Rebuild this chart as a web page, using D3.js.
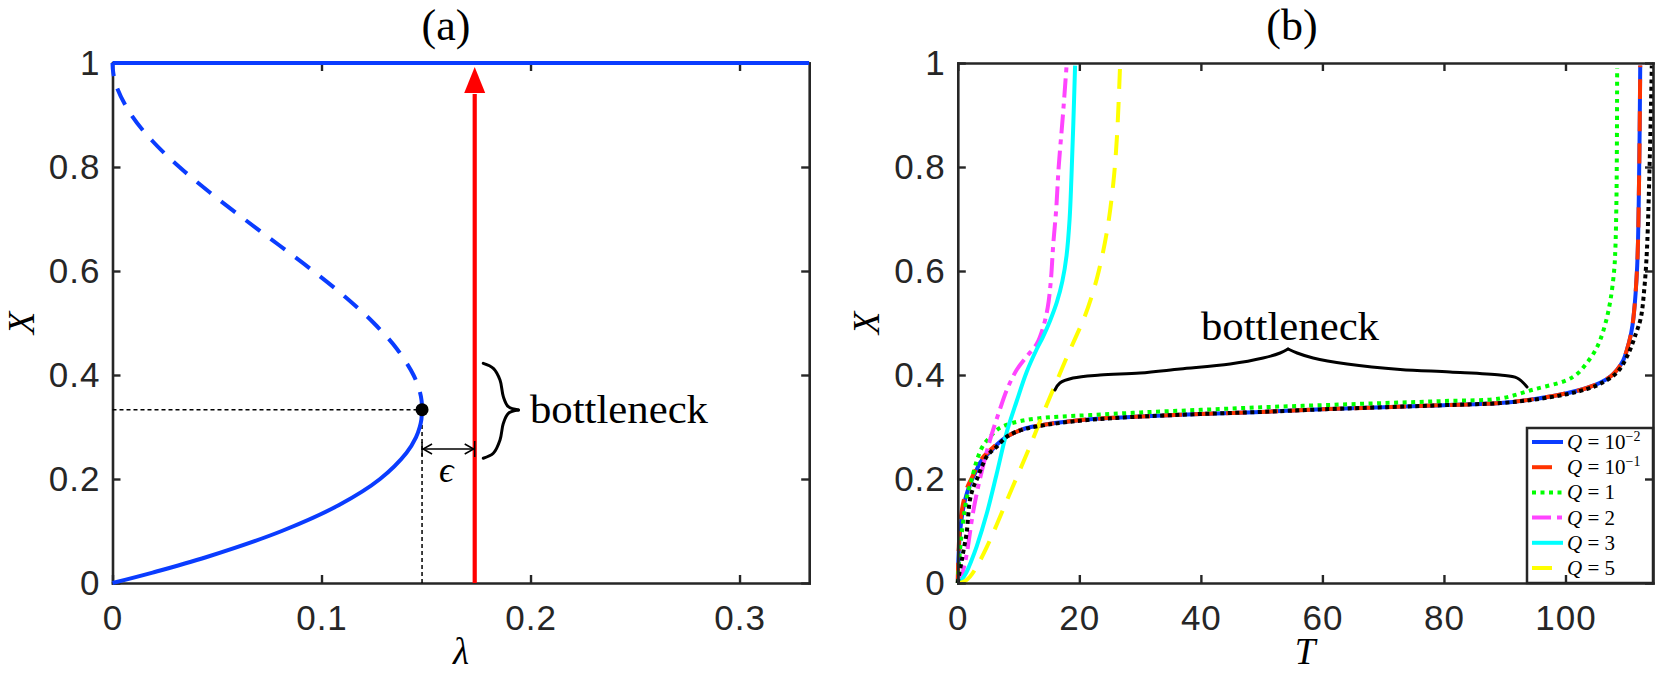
<!DOCTYPE html>
<html><head><meta charset="utf-8">
<script src="https://cdn.jsdelivr.net/npm/d3@7"></script>
<style>body{margin:0;background:#fff;} svg{display:block;}</style>
</head><body>
<svg id="chart" width="1661" height="675"></svg>
<script>
// ---------------- data ----------------
const lambdaTicks = [0, 0.1, 0.2, 0.3];
const xTickVals   = [0, 0.2, 0.4, 0.6, 0.8, 1];
const tTicks      = [0, 20, 40, 60, 80, 100];

// panel (a): bifurcation diagram (lambda, X)
const stableX   = [0, 0.02, 0.05, 0.1, 0.15, 0.2, 0.25, 0.28, 0.3, 0.315, 0.3333];
const stableLam = [0, 0.0192, 0.0451, 0.081, 0.1084, 0.128, 0.1406, 0.1452, 0.147, 0.1478, 0.1481];
const unstableX   = [0.3333, 0.35, 0.37, 0.4, 0.45, 0.5, 0.55, 0.6, 0.65, 0.7, 0.75, 0.8, 0.85, 0.9, 0.95, 0.98, 1];
const unstableLam = [0.1481, 0.1479, 0.1469, 0.144, 0.1361, 0.125, 0.1114, 0.096, 0.0796, 0.063, 0.0469, 0.032, 0.0191, 0.009, 0.0024, 0.0004, 0];
const upperLam = [0, 0.3333];
const upperX   = [1, 1];
const foldLam = 0.1481, foldX = 0.3333;
const pathLam = 0.1733;
const epsX = 0.2577;
const braceAUpper = [[0.1774,0.4225],[0.1822,0.4129],[0.1854,0.3904],[0.1870,0.3583],[0.1894,0.3390],[0.1942,0.3327]];
const braceALower = [[0.1942,0.3327],[0.1894,0.3263],[0.1870,0.3071],[0.1854,0.2750],[0.1822,0.2494],[0.1774,0.2398]];

// panel (b): X(T) for several Q
const qBase = ["10", "10", "1", "2", "3", "5"];
const qExp  = ["\u22122", "\u22121", "", "", "", ""];

const tQ1 = [0,0.1,0.36,0.7,1.2,1.7,2.3,3.0,3.6,4.4,5.3,6.5,8.0,9.5,11.3,13.5,16.3,21.8,30,40,50,60,70,80,89.3,95,100.2,103.5,105.7,107.5,108.5,109.5,110.1,110.8,111.2,111.8,112.1,112.3];
const xQ1 = [0,0.045,0.096,0.13,0.16,0.18,0.198,0.215,0.23,0.242,0.252,0.267,0.281,0.29,0.298,0.303,0.308,0.315,0.32,0.325,0.329,0.334,0.338,0.342,0.346,0.354,0.365,0.375,0.385,0.398,0.41,0.428,0.448,0.48,0.512,0.61,0.77,0.995];
const tQ2 = [0,0.08,0.3,0.6,1.1,1.6,2.2,2.9,3.5,4.3,5.2,6.5,8.0,9.5,11.3,13.5,16.3,21.8,30,40,50,60,70,80,89.3,95,100.2,103.5,105.7,107.5,108.5,109.5,110.1,110.8,111.2,111.8,112.1,112.3];
const xQ2 = [0,0.045,0.1,0.135,0.165,0.185,0.2,0.217,0.232,0.244,0.254,0.268,0.281,0.29,0.298,0.303,0.308,0.315,0.32,0.325,0.329,0.334,0.338,0.342,0.346,0.354,0.365,0.375,0.385,0.398,0.41,0.428,0.448,0.48,0.512,0.61,0.77,0.995];
const tQ3 = [0,0.36,0.8,1.2,1.7,2.3,3.3,4.2,5.3,6.5,8.0,10.5,13.5,17,21.8,30,40,50,60,70,80,89.3,94.7,100.2,102,103.5,104.8,105.7,106.7,107.4,108.0,108.2,108.4,108.5];
const xQ3 = [0,0.063,0.11,0.146,0.175,0.2,0.242,0.265,0.281,0.295,0.304,0.312,0.317,0.32,0.323,0.328,0.333,0.338,0.342,0.346,0.35,0.355,0.372,0.39,0.403,0.423,0.445,0.467,0.505,0.544,0.6,0.64,0.75,0.99];
const tQ4 = [0,0.4,0.9,1.5,2.5,3.6,5.3,6.9,8.2,9.7,11.3,13.0,14.0,14.8,15.3,15.7,16.2,16.6,17.3,17.9];
const xQ4 = [0,0.006,0.025,0.058,0.135,0.198,0.275,0.333,0.375,0.41,0.435,0.46,0.49,0.53,0.58,0.65,0.72,0.8,0.9,0.995];
const tQ5 = [0,0.4,1.4,2.2,3.1,4.8,6.4,8.0,9.7,11.3,13.0,14.0,15.2,16.3,17.2,17.9,18.4,18.7,19.0,19.3];
const xQ5 = [0,0.003,0.02,0.042,0.07,0.135,0.21,0.288,0.35,0.405,0.45,0.473,0.505,0.54,0.58,0.63,0.7,0.78,0.88,0.995];
const tQ6 = [0.3,1.2,2,3.1,4.8,6.4,8.3,10.5,12.3,14.0,15.8,17.6,19.3,20.8,22.0,23.2,24.6,25.6,26.2,26.7];
const xQ6 = [0,0.004,0.012,0.031,0.07,0.112,0.165,0.225,0.275,0.325,0.375,0.425,0.47,0.51,0.55,0.6,0.68,0.77,0.86,0.995];
const tRef = [0,0.2,0.6,0.9,1.45,2.0,2.6,3.3,4.0,4.75,5.5,6.4,8.0,9.5,11.3,13.5,16.3,21.8,30,40,50,60,70,80,89.3,95,100.2,103.5,105.7,108.5,110.3,111.6,112.4,113.0,113.4,113.9,114.2];
const xRef = [0,0.015,0.04,0.06,0.096,0.16,0.185,0.204,0.225,0.243,0.253,0.262,0.281,0.29,0.297,0.302,0.307,0.314,0.32,0.325,0.329,0.334,0.338,0.342,0.346,0.353,0.363,0.373,0.383,0.405,0.44,0.48,0.51,0.57,0.64,0.83,0.995];
const braceBLeft  = [[15.98,0.3712],[16.8,0.3846],[18.96,0.3942],[23.41,0.4],[29.99,0.4038],[36.58,0.4115],[44.81,0.4212],[50.24,0.4327],[53.04,0.4423],[54.35,0.45]];
const braceBRight = [[54.35,0.45],[55.84,0.4423],[58.47,0.4327],[64.07,0.4212],[72.79,0.4106],[81.0,0.4058],[89.23,0.4],[92.03,0.3942],[93.67,0.3769]];

// ---------------- styles / layout ----------------
const AX = '#262626';
const SANS = 'Liberation Sans, Arial, Helvetica, sans-serif';
const SERIF = 'Liberation Serif, DejaVu Serif, Times New Roman, serif';
const BLUE = '#0a3cff';
const seriesStyle = [
  {color: BLUE,      dash: null},
  {color: '#ff3300', dash: '20,12'},
  {color: '#00ff00', dash: '4,4.5'},
  {color: '#ff44ff', dash: '19,6,5,6'},
  {color: '#00ffff', dash: null},
  {color: '#ffff00', dash: '20,13'}
];
const seriesT = [tQ1, tQ2, tQ3, tQ4, tQ5, tQ6];
const seriesX = [xQ1, xQ2, xQ3, xQ4, xQ5, xQ6];

const svg = d3.select('#chart');
const yS = d3.scaleLinear([0, 1], [583, 63]);
const xA = d3.scaleLinear([0, 1/3], [112.5, 809.2]);
const xB = d3.scaleLinear([0, 114.4], [957.8, 1653]);

const zip = (a, b) => a.map((v, i) => [v, b[i]]);

function drawAxes(xs, xticks) {
  const g = svg.append('g');
  const [x0, x1] = xs.range();
  g.append('g').attr('transform', 'translate(0,583)')
    .call(d3.axisBottom(xs).tickValues(xticks).tickSize(-8).tickSizeOuter(0).tickPadding(22).tickFormat(d => String(d)));
  g.append('g').attr('transform', 'translate(0,63)')
    .call(d3.axisTop(xs).tickValues(xticks).tickSize(-8).tickSizeOuter(0).tickFormat(''));
  g.append('g').attr('transform', `translate(${x0},0)`)
    .call(d3.axisLeft(yS).tickValues(xTickVals).tickSize(-8).tickSizeOuter(0).tickPadding(12).tickFormat(d => String(d)));
  g.append('g').attr('transform', `translate(${x1},0)`)
    .call(d3.axisRight(yS).tickValues(xTickVals).tickSize(-8).tickSizeOuter(0).tickFormat(''));
  g.selectAll('.domain').attr('stroke', AX).attr('stroke-width', 2.6).attr('stroke-linecap', 'square');
  g.selectAll('.tick line').attr('stroke', AX).attr('stroke-width', 2.4);
  g.selectAll('.tick text').attr('fill', AX).attr('font-family', SANS).attr('font-size', 35).attr('letter-spacing', 1);
  return g;
}

// ---------------- panel (a) ----------------
const lineA = d3.line().x(d => xA(d[0])).y(d => yS(d[1])).curve(d3.curveCatmullRom.alpha(0.5));
drawAxes(xA, lambdaTicks);

// guide lines
svg.append('path').attr('d', lineA([[0, foldX], [foldLam, foldX]]))
  .attr('stroke', '#000').attr('stroke-width', 1.5).attr('stroke-dasharray', '4,3').attr('fill', 'none');
svg.append('path').attr('d', lineA([[foldLam, 0], [foldLam, foldX]]))
  .attr('stroke', '#000').attr('stroke-width', 1.5).attr('stroke-dasharray', '4,3').attr('fill', 'none');

// branches
svg.append('path').attr('d', lineA(zip(stableLam, stableX)))
  .attr('stroke', BLUE).attr('stroke-width', 4).attr('fill', 'none');
svg.append('path').attr('d', lineA(zip(unstableLam, unstableX)))
  .attr('stroke', BLUE).attr('stroke-width', 4).attr('fill', 'none').attr('stroke-dasharray', '18,13');
svg.append('path').attr('d', lineA(zip(upperLam, upperX)))
  .attr('stroke', BLUE).attr('stroke-width', 4).attr('fill', 'none');

// fold point
svg.append('circle').attr('cx', xA(foldLam)).attr('cy', yS(foldX)).attr('r', 6.5).attr('fill', '#000');

// red arrow
{
  const ax = xA(pathLam), tip = yS(1) + 4, base = tip + 26;
  svg.append('line').attr('x1', ax).attr('x2', ax).attr('y1', yS(0)).attr('y2', base + 1)
    .attr('stroke', '#ff0000').attr('stroke-width', 4.2);
  svg.append('path').attr('d', `M${ax},${tip}L${ax - 10.5},${base}L${ax + 10.5},${base}Z`).attr('fill', '#ff0000');
}

// epsilon arrow
{
  const xa = xA(foldLam), xb = xA(pathLam), y = yS(epsX);
  const g = svg.append('g').attr('stroke', '#000').attr('stroke-width', 1.5).attr('fill', 'none');
  g.append('line').attr('x1', xa).attr('x2', xb).attr('y1', y).attr('y2', y);
  g.append('path').attr('d', `M${xa + 10},${y - 5}L${xa + 1},${y}L${xa + 10},${y + 5}`);
  g.append('path').attr('d', `M${xb - 10},${y - 5}L${xb - 1},${y}L${xb - 10},${y + 5}`);
  g.append('line').attr('x1', xa).attr('x2', xa).attr('y1', y - 7).attr('y2', y + 7);
  g.append('line').attr('x1', xb).attr('x2', xb).attr('y1', y - 8).attr('y2', y + 8);
  svg.append('text').attr('x', (xa + xb) / 2 - 2).attr('y', y + 33).attr('text-anchor', 'middle')
    .attr('font-family', SERIF).attr('font-style', 'italic').attr('font-size', 36).text('\u03F5');
}

// brace (a)
svg.append('path').attr('d', lineA(braceAUpper)).attr('stroke', '#000').attr('stroke-width', 3).attr('fill', 'none').attr('stroke-linecap', 'round');
svg.append('path').attr('d', lineA(braceALower)).attr('stroke', '#000').attr('stroke-width', 3).attr('fill', 'none').attr('stroke-linecap', 'round');
svg.append('text').attr('x', 530).attr('y', 423).attr('font-family', SERIF).attr('font-size', 40)
  .attr('textLength', 178).attr('lengthAdjust', 'spacingAndGlyphs').attr('fill', '#000').text('bottleneck');

// labels (a)
svg.append('text').attr('x', 446).attr('y', 40).attr('text-anchor', 'middle').attr('font-family', SERIF).attr('font-size', 44).text('(a)');
svg.append('text').attr('x', 461).attr('y', 664).attr('text-anchor', 'middle').attr('font-family', SERIF).attr('font-style', 'italic').attr('font-size', 37).text('\u03BB');
svg.append('text').attr('transform', 'translate(34,323) rotate(-90)').attr('text-anchor', 'middle').attr('font-family', SERIF).attr('font-style', 'italic').attr('font-size', 37).text('X');

// ---------------- panel (b) ----------------
const lineB = d3.line().x(d => xB(d[0])).y(d => yS(d[1])).curve(d3.curveCatmullRom.alpha(0.5));

seriesT.forEach((ts, i) => {
  const st = seriesStyle[i];
  const p = svg.append('path').attr('d', lineB(zip(ts, seriesX[i])))
    .attr('stroke', st.color).attr('stroke-width', 4).attr('fill', 'none');
  if (st.dash) p.attr('stroke-dasharray', st.dash);
});
svg.append('path').attr('d', lineB(zip(tRef, xRef)))
  .attr('stroke', '#000').attr('stroke-width', 4).attr('fill', 'none').attr('stroke-dasharray', '4,3.5');

// brace (b)
svg.append('path').attr('d', lineB(braceBLeft)).attr('stroke', '#000').attr('stroke-width', 3).attr('fill', 'none').attr('stroke-linecap', 'round');
svg.append('path').attr('d', lineB(braceBRight)).attr('stroke', '#000').attr('stroke-width', 3).attr('fill', 'none').attr('stroke-linecap', 'round');
svg.append('text').attr('x', 1201).attr('y', 340).attr('font-family', SERIF).attr('font-size', 40)
  .attr('textLength', 178).attr('lengthAdjust', 'spacingAndGlyphs').attr('fill', '#000').text('bottleneck');

// legend
{
  const lx0 = 1527, lx1 = 1653, ly0 = 428, ly1 = 583;
  const g = svg.append('g');
  g.append('rect').attr('x', lx0).attr('y', ly0).attr('width', lx1 - lx0).attr('height', ly1 - ly0)
    .attr('fill', '#fff').attr('stroke', AX).attr('stroke-width', 2.5);
  const rowY = d3.scaleLinear([0, 5], [442, 568]);
  qBase.forEach((b, i) => {
    const y = rowY(i), st = seriesStyle[i];
    const l = g.append('line').attr('x1', 1532).attr('x2', 1563).attr('y1', y).attr('y2', y)
      .attr('stroke', st.color).attr('stroke-width', 4);
    if (st.dash) l.attr('stroke-dasharray', st.dash);
    const t = g.append('text').attr('x', 1567).attr('y', y + 7).attr('font-family', SERIF).attr('font-size', 21).attr('fill', '#000');
    t.append('tspan').attr('font-style', 'italic').text('Q');
    t.append('tspan').text(' = ' + b);
    if (qExp[i]) t.append('tspan').attr('dy', -8).attr('font-size', 14).text(qExp[i]);
  });
}

drawAxes(xB, tTicks);

// labels (b)
svg.append('text').attr('x', 1292).attr('y', 40).attr('text-anchor', 'middle').attr('font-family', SERIF).attr('font-size', 44).text('(b)');
svg.append('text').attr('x', 1305).attr('y', 664).attr('text-anchor', 'middle').attr('font-family', SERIF).attr('font-style', 'italic').attr('font-size', 37).text('T');
svg.append('text').attr('transform', 'translate(879,323) rotate(-90)').attr('text-anchor', 'middle').attr('font-family', SERIF).attr('font-style', 'italic').attr('font-size', 37).text('X');
</script>
</body></html>
